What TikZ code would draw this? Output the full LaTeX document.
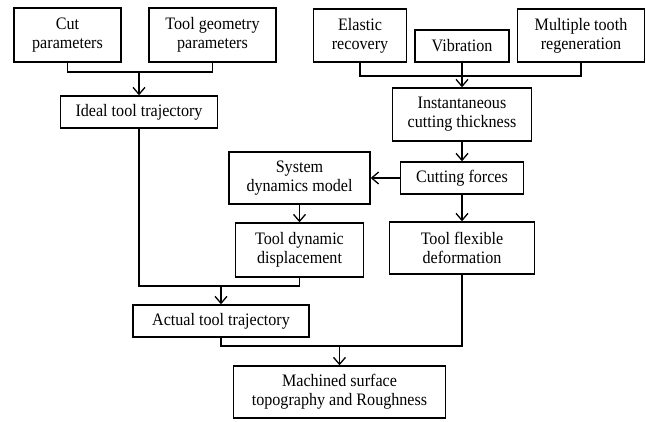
\documentclass[tikz,border=0pt]{standalone}
\usepackage{fontspec}
\setmainfont{Liberation Serif}[FakeStretch=0.92]
\usepackage{tikz}
\usetikzlibrary{arrows.meta,positioning}
\tikzset{
	flowbox/.style = {draw=black, line width=1.4pt, rectangle, align=center,
		inner sep=0pt, text centered,
		font=\fontsize{17.5}{19}\selectfont},% boite du schema
	flowline/.style = {draw=black, line width=1.3pt},% trait de liaison
	flowarr/.style = {flowline, -{Straight Barb[length=7pt,width=12pt,line width=1.3pt]}}% fleche ouverte
}

\begin{document}
\begin{tikzpicture}[x=1pt,y=-1pt]
\useasboundingbox (0,0) rectangle (646,421);
% left branch
\node [flowbox, minimum width=107pt, minimum height=54pt] (cut) at (67.5,35) {Cut\\parameters};
\node [flowbox, minimum width=127pt, minimum height=54pt] (geom) at (212.5,35) {Tool geometry\\parameters};
\node [flowbox, minimum width=157pt, minimum height=32pt] (ideal) at (139,112) {Ideal tool trajectory};
% right branch
\node [flowbox, minimum width=93pt, minimum height=53pt] (elastic) at (360,35.5) {Elastic\\recovery};
\node [flowbox, minimum width=94pt, minimum height=32pt] (vib) at (462,46) {Vibration};
\node [flowbox, minimum width=127pt, minimum height=53pt] (multi) at (581,35.5) {Multiple tooth\\regeneration};
\node [flowbox, minimum width=139pt, minimum height=53pt] (inst) at (462,114.5) {Instantaneous\\cutting thickness};
\node [flowbox, minimum width=123pt, minimum height=32pt] (forces) at (462,178) {Cutting forces};
\node [flowbox, minimum width=141pt, minimum height=52pt] (sysdyn) at (299.5,178) {System\\dynamics model};
\node [flowbox, minimum width=128pt, minimum height=54pt] (tooldyn) at (299.5,250) {Tool dynamic\\displacement};
\node [flowbox, minimum width=145pt, minimum height=52pt] (flex) at (462,248) {Tool flexible\\deformation};
% bottom
\node [flowbox, minimum width=176pt, minimum height=32pt] (actual) at (221,321) {Actual tool trajectory};
\node [flowbox, minimum width=212pt, minimum height=52pt] (mach) at (339.5,392) {Machined surface\\topography and Roughness};

% junctions
\coordinate (j1) at (139,72);
\coordinate (j2) at (462,76);
\coordinate (j3) at (221,286);
\coordinate (j4) at (339.5,346);

\draw [flowline] (cut.south) |- (j1) -| (geom.south);
\draw [flowarr] (j1) -- (ideal.north);
\draw [flowline] (elastic.south) |- (j2) -| (multi.south);
\draw [flowline] (vib.south) -- (j2);
\draw [flowarr] (j2) -- (inst.north);
\draw [flowarr] (inst.south) -- (forces.north);
\draw [flowarr] (forces.west) -- (sysdyn.east);
\draw [flowarr] (sysdyn.south) -- (tooldyn.north);
\draw [flowarr] (forces.south) -- (flex.north);
\draw [flowline] (ideal.south) |- (j3) -| (tooldyn.south);
\draw [flowarr] (j3) -- (actual.north);
\draw [flowline] (actual.south) |- (j4) -| (flex.south);
\draw [flowarr] (j4) -- (mach.north);
\end{tikzpicture}
\end{document}
